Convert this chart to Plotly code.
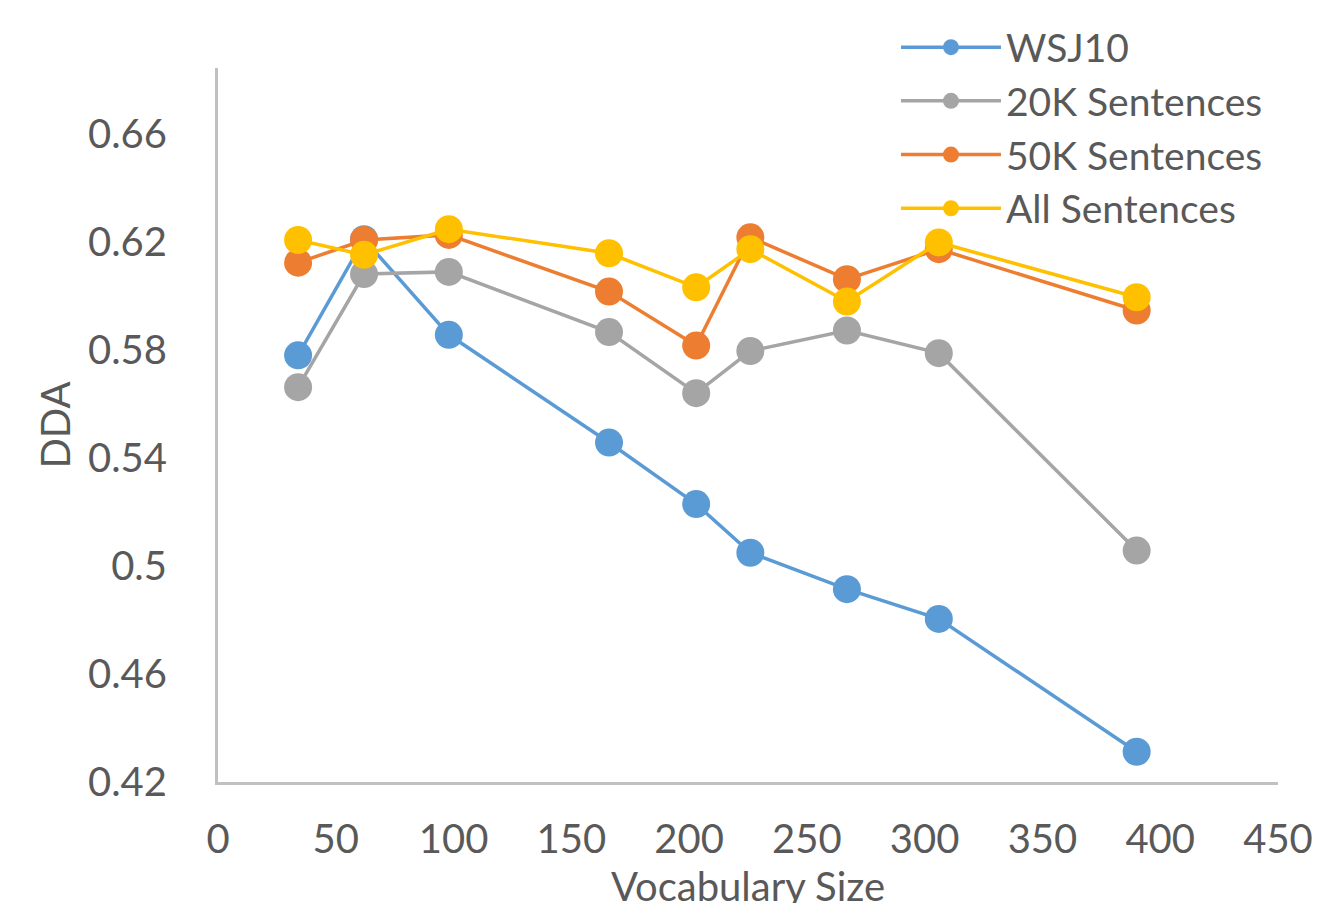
import plotly.graph_objects as go

vocab_size = [34, 62, 98, 166, 203, 226, 267, 306, 390]
wsj10 = [0.578, 0.621, 0.5856, 0.5457, 0.5229, 0.5049, 0.4914, 0.4804, 0.4312]
sent_20k = [0.5662, 0.6081, 0.6089, 0.5866, 0.5640, 0.5796, 0.5872, 0.5788, 0.5057]
sent_50k = [0.6123, 0.6207, 0.6226, 0.6016, 0.5816, 0.6217, 0.6062, 0.6173, 0.5946]
sent_all = [0.6207, 0.6152, 0.6247, 0.6158, 0.6032, 0.6173, 0.5979, 0.6198, 0.5995]

series_names = ["WSJ10", "20K Sentences", "50K Sentences", "All Sentences"]
series_values = [wsj10, sent_20k, sent_50k, sent_all]
series_colors = ["#5B9BD5", "#A5A5A5", "#ED7D31", "#FFC000"]

x_ticks = [0, 50, 100, 150, 200, 250, 300, 350, 400, 450]
y_ticks = [0.42, 0.46, 0.5, 0.54, 0.58, 0.62, 0.66]
y_tick_labels = ["0.42", "0.46", "0.5", "0.54", "0.58", "0.62", "0.66"]

FONT = "Lato, 'Open Sans', sans-serif"
TEXT = "#595959"

fig = go.Figure()
for name, vals, col in zip(series_names, series_values, series_colors):
    fig.add_trace(go.Scatter(
        x=vocab_size, y=vals, name=name, mode="lines+markers",
        line=dict(color=col, width=3.5),
        marker=dict(color=col, size=28, line=dict(width=0)),
    ))

fig.update_layout(
    width=1321, height=903,
    margin=dict(l=210, r=51, t=60, b=129, autoexpand=False),
    paper_bgcolor="white", plot_bgcolor="white",
    font=dict(family=FONT, size=40, color=TEXT),
    showlegend=True,
    legend=dict(
        x=0.6396, y=1.0738, xanchor="left", yanchor="top",
        bgcolor="rgba(0,0,0,0)", borderwidth=0,
        font=dict(family=FONT, size=39, color=TEXT),
        itemwidth=100, tracegroupgap=0,
    ),
)
fig.update_xaxes(
    range=[0, 450], tickvals=x_ticks, ticktext=[str(v) for v in x_ticks],
    showgrid=False, zeroline=False, showline=True, linecolor="#C0C0C0", linewidth=3,
    ticks="", ticklabelstandoff=20, automargin=False,
    tickfont=dict(family=FONT, size=40, color=TEXT),
    title=dict(text="Vocabulary Size", font=dict(family=FONT, size=40, color=TEXT), standoff=0),
)
fig.update_yaxes(
    range=[0.42, 0.6844], tickvals=y_ticks, ticktext=y_tick_labels,
    showgrid=False, zeroline=False, showline=True, linecolor="#C0C0C0", linewidth=3,
    ticks="", ticklabelstandoff=40, automargin=False,
    tickfont=dict(family=FONT, size=40, color=TEXT),
    title=dict(text="DDA", font=dict(family=FONT, size=40, color=TEXT), standoff=5),
)

fig.write_html("out.html")
